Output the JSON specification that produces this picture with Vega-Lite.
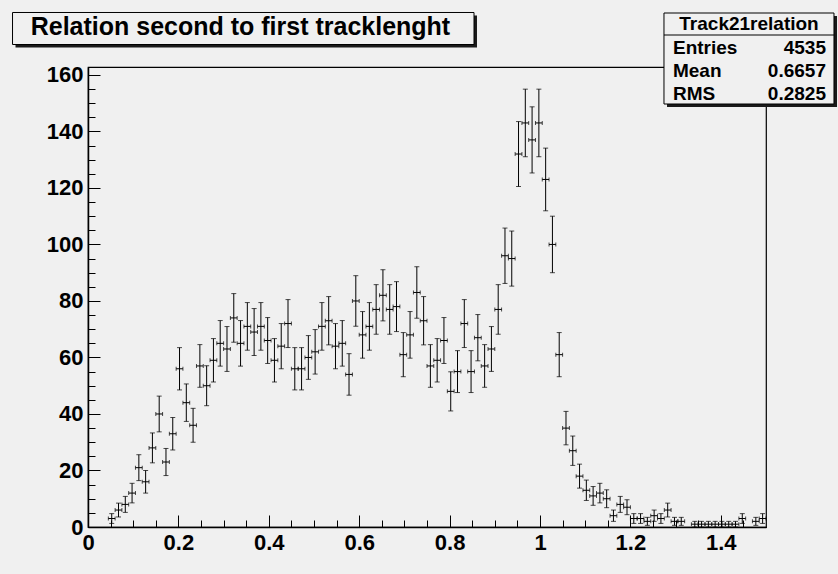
{
  "$schema": "https://vega.github.io/schema/vega-lite/v6.json",
  "width": 678,
  "height": 460,
  "autosize": {"type": "none"},
  "padding": {"left": 88, "top": 67, "right": 72, "bottom": 47},
  "background": "#f0f0f0",
  "config": {
    "font": "Liberation Sans",
    "view": {"stroke": "black", "strokeWidth": 1.2, "fill": "#f0f0f0"},
    "axis": {
      "labelFont": "Liberation Sans",
      "labelFontWeight": "bold",
      "labelFontSize": 22,
      "labelColor": "black",
      "tickColor": "black",
      "domainColor": "black",
      "grid": false,
      "title": null,
      "labelFlush": false,
      "labelOverlap": false
    }
  },
  "datasets": {
    "h": [
      {"x": 0.0525, "x0": 0.045, "x1": 0.06, "n": 3, "err": 1.732},
      {"x": 0.0675, "x0": 0.06, "x1": 0.075, "n": 6, "err": 2.449},
      {"x": 0.0825, "x0": 0.075, "x1": 0.09, "n": 8, "err": 2.828},
      {"x": 0.0975, "x0": 0.09, "x1": 0.105, "n": 12, "err": 3.464},
      {"x": 0.1125, "x0": 0.105, "x1": 0.12, "n": 21, "err": 4.583},
      {"x": 0.1275, "x0": 0.12, "x1": 0.135, "n": 16, "err": 4},
      {"x": 0.1425, "x0": 0.135, "x1": 0.15, "n": 28, "err": 5.292},
      {"x": 0.1575, "x0": 0.15, "x1": 0.165, "n": 40, "err": 6.325},
      {"x": 0.1725, "x0": 0.165, "x1": 0.18, "n": 23, "err": 4.796},
      {"x": 0.1875, "x0": 0.18, "x1": 0.195, "n": 33, "err": 5.745},
      {"x": 0.2025, "x0": 0.195, "x1": 0.21, "n": 56, "err": 7.483},
      {"x": 0.2175, "x0": 0.21, "x1": 0.225, "n": 44, "err": 6.633},
      {"x": 0.2325, "x0": 0.225, "x1": 0.24, "n": 36, "err": 6},
      {"x": 0.2475, "x0": 0.24, "x1": 0.255, "n": 57, "err": 7.55},
      {"x": 0.2625, "x0": 0.255, "x1": 0.27, "n": 50, "err": 7.071},
      {"x": 0.2775, "x0": 0.27, "x1": 0.285, "n": 59, "err": 7.681},
      {"x": 0.2925, "x0": 0.285, "x1": 0.3, "n": 65, "err": 8.062},
      {"x": 0.3075, "x0": 0.3, "x1": 0.315, "n": 63, "err": 7.937},
      {"x": 0.3225, "x0": 0.315, "x1": 0.33, "n": 74, "err": 8.602},
      {"x": 0.3375, "x0": 0.33, "x1": 0.345, "n": 65, "err": 8.062},
      {"x": 0.3525, "x0": 0.345, "x1": 0.36, "n": 71, "err": 8.426},
      {"x": 0.3675, "x0": 0.36, "x1": 0.375, "n": 69, "err": 8.307},
      {"x": 0.3825, "x0": 0.375, "x1": 0.39, "n": 71, "err": 8.426},
      {"x": 0.3975, "x0": 0.39, "x1": 0.405, "n": 66, "err": 8.124},
      {"x": 0.4125, "x0": 0.405, "x1": 0.42, "n": 59, "err": 7.681},
      {"x": 0.4275, "x0": 0.42, "x1": 0.435, "n": 64, "err": 8},
      {"x": 0.4425, "x0": 0.435, "x1": 0.45, "n": 72, "err": 8.485},
      {"x": 0.4575, "x0": 0.45, "x1": 0.465, "n": 56, "err": 7.483},
      {"x": 0.4725, "x0": 0.465, "x1": 0.48, "n": 56, "err": 7.483},
      {"x": 0.4875, "x0": 0.48, "x1": 0.495, "n": 60, "err": 7.746},
      {"x": 0.5025, "x0": 0.495, "x1": 0.51, "n": 62, "err": 7.874},
      {"x": 0.5175, "x0": 0.51, "x1": 0.525, "n": 71, "err": 8.426},
      {"x": 0.5325, "x0": 0.525, "x1": 0.54, "n": 73, "err": 8.544},
      {"x": 0.5475, "x0": 0.54, "x1": 0.555, "n": 64, "err": 8},
      {"x": 0.5625, "x0": 0.555, "x1": 0.57, "n": 65, "err": 8.062},
      {"x": 0.5775, "x0": 0.57, "x1": 0.585, "n": 54, "err": 7.348},
      {"x": 0.5925, "x0": 0.585, "x1": 0.6, "n": 80, "err": 8.944},
      {"x": 0.6075, "x0": 0.6, "x1": 0.615, "n": 68, "err": 8.246},
      {"x": 0.6225, "x0": 0.615, "x1": 0.63, "n": 71, "err": 8.426},
      {"x": 0.6375, "x0": 0.63, "x1": 0.645, "n": 77, "err": 8.775},
      {"x": 0.6525, "x0": 0.645, "x1": 0.66, "n": 82, "err": 9.055},
      {"x": 0.6675, "x0": 0.66, "x1": 0.675, "n": 77, "err": 8.775},
      {"x": 0.6825, "x0": 0.675, "x1": 0.69, "n": 78, "err": 8.832},
      {"x": 0.6975, "x0": 0.69, "x1": 0.705, "n": 61, "err": 7.81},
      {"x": 0.7125, "x0": 0.705, "x1": 0.72, "n": 68, "err": 8.246},
      {"x": 0.7275, "x0": 0.72, "x1": 0.735, "n": 83, "err": 9.11},
      {"x": 0.7425, "x0": 0.735, "x1": 0.75, "n": 73, "err": 8.544},
      {"x": 0.7575, "x0": 0.75, "x1": 0.765, "n": 57, "err": 7.55},
      {"x": 0.7725, "x0": 0.765, "x1": 0.78, "n": 59, "err": 7.681},
      {"x": 0.7875, "x0": 0.78, "x1": 0.795, "n": 66, "err": 8.124},
      {"x": 0.8025, "x0": 0.795, "x1": 0.81, "n": 48, "err": 6.928},
      {"x": 0.8175, "x0": 0.81, "x1": 0.825, "n": 55, "err": 7.416},
      {"x": 0.8325, "x0": 0.825, "x1": 0.84, "n": 72, "err": 8.485},
      {"x": 0.8475, "x0": 0.84, "x1": 0.855, "n": 55, "err": 7.416},
      {"x": 0.8625, "x0": 0.855, "x1": 0.87, "n": 67, "err": 8.185},
      {"x": 0.8775, "x0": 0.87, "x1": 0.885, "n": 57, "err": 7.55},
      {"x": 0.8925, "x0": 0.885, "x1": 0.9, "n": 63, "err": 7.937},
      {"x": 0.9075, "x0": 0.9, "x1": 0.915, "n": 77, "err": 8.775},
      {"x": 0.9225, "x0": 0.915, "x1": 0.93, "n": 96, "err": 9.798},
      {"x": 0.9375, "x0": 0.93, "x1": 0.945, "n": 95, "err": 9.747},
      {"x": 0.9525, "x0": 0.945, "x1": 0.96, "n": 132, "err": 11.489},
      {"x": 0.9675, "x0": 0.96, "x1": 0.975, "n": 143, "err": 11.958},
      {"x": 0.9825, "x0": 0.975, "x1": 0.99, "n": 137, "err": 11.705},
      {"x": 0.9975, "x0": 0.99, "x1": 1.005, "n": 143, "err": 11.958},
      {"x": 1.0125, "x0": 1.005, "x1": 1.02, "n": 123, "err": 11.091},
      {"x": 1.0275, "x0": 1.02, "x1": 1.035, "n": 100, "err": 10},
      {"x": 1.0425, "x0": 1.035, "x1": 1.05, "n": 61, "err": 7.81},
      {"x": 1.0575, "x0": 1.05, "x1": 1.065, "n": 35, "err": 5.916},
      {"x": 1.0725, "x0": 1.065, "x1": 1.08, "n": 27, "err": 5.196},
      {"x": 1.0875, "x0": 1.08, "x1": 1.095, "n": 18, "err": 4.243},
      {"x": 1.1025, "x0": 1.095, "x1": 1.11, "n": 13, "err": 3.606},
      {"x": 1.1175, "x0": 1.11, "x1": 1.125, "n": 11, "err": 3.317},
      {"x": 1.1325, "x0": 1.125, "x1": 1.14, "n": 12, "err": 3.464},
      {"x": 1.1475, "x0": 1.14, "x1": 1.155, "n": 10, "err": 3.162},
      {"x": 1.1625, "x0": 1.155, "x1": 1.17, "n": 4, "err": 2},
      {"x": 1.1775, "x0": 1.17, "x1": 1.185, "n": 8, "err": 2.828},
      {"x": 1.1925, "x0": 1.185, "x1": 1.2, "n": 7, "err": 2.646},
      {"x": 1.2075, "x0": 1.2, "x1": 1.215, "n": 3, "err": 1.732},
      {"x": 1.2225, "x0": 1.215, "x1": 1.23, "n": 3, "err": 1.732},
      {"x": 1.2375, "x0": 1.23, "x1": 1.245, "n": 2, "err": 1.414},
      {"x": 1.2525, "x0": 1.245, "x1": 1.26, "n": 4, "err": 2},
      {"x": 1.2675, "x0": 1.26, "x1": 1.275, "n": 3, "err": 1.732},
      {"x": 1.2825, "x0": 1.275, "x1": 1.29, "n": 6, "err": 2.449},
      {"x": 1.2975, "x0": 1.29, "x1": 1.305, "n": 2, "err": 1.414},
      {"x": 1.3125, "x0": 1.305, "x1": 1.32, "n": 2, "err": 1.414},
      {"x": 1.3425, "x0": 1.335, "x1": 1.35, "n": 1, "err": 1},
      {"x": 1.3575, "x0": 1.35, "x1": 1.365, "n": 1, "err": 1},
      {"x": 1.3725, "x0": 1.365, "x1": 1.38, "n": 1, "err": 1},
      {"x": 1.3875, "x0": 1.38, "x1": 1.395, "n": 1, "err": 1},
      {"x": 1.4025, "x0": 1.395, "x1": 1.41, "n": 1, "err": 1},
      {"x": 1.4175, "x0": 1.41, "x1": 1.425, "n": 1, "err": 1},
      {"x": 1.4325, "x0": 1.425, "x1": 1.44, "n": 1, "err": 1},
      {"x": 1.4475, "x0": 1.44, "x1": 1.455, "n": 3, "err": 1.732},
      {"x": 1.4775, "x0": 1.47, "x1": 1.485, "n": 2, "err": 1.414},
      {"x": 1.4925, "x0": 1.485, "x1": 1.5, "n": 3, "err": 1.732}
    ]
  },
  "resolve": {"axis": {"x": "independent", "y": "independent"}},
  "layer": [
    {
      "data": {"name": "h"},
      "mark": {"type": "errorbar", "color": "black", "thickness": 1, "ticks": {"size": 5, "thickness": 1, "color": "black"}},
      "encoding": {
        "x": {"field": "x", "type": "quantitative", "title": null, "scale": {"domain": [0, 1.5], "nice": false, "zero": false},
              "axis": {"title": null, "orient": "bottom", "values": [0, 0.2, 0.4, 0.6, 0.8, 1, 1.2, 1.4], "format": "~g", "ticks": false, "labelPadding": 5, "domainWidth": 1.5}},
        "y": {"field": "n", "type": "quantitative", "title": null, "scale": {"domain": [0, 162.8], "nice": false},
              "axis": {"title": null, "orient": "left", "values": [0, 20, 40, 60, 80, 100, 120, 140, 160], "ticks": false, "labelPadding": 5, "domainWidth": 1.5}},
        "yError": {"field": "err"}
      }
    },
    {
      "data": {"name": "h"},
      "mark": {"type": "errorbar", "color": "black", "thickness": 1, "ticks": {"size": 4, "thickness": 1, "color": "black"}},
      "encoding": {
        "x": {"field": "x0", "type": "quantitative", "title": null, "scale": {"domain": [0, 1.5], "nice": false, "zero": false}, "axis": null},
        "x2": {"field": "x1"},
        "y": {"field": "n", "type": "quantitative", "title": null, "scale": {"domain": [0, 162.8], "nice": false}, "axis": null}
      }
    },
    {
      "data": {"name": "h"},
      "mark": {"type": "point", "opacity": 0},
      "encoding": {
        "x": {"field": "x", "type": "quantitative", "title": null, "scale": {"domain": [0, 1.5], "nice": false, "zero": false},
              "axis": {"title": null, "orient": "bottom", "values": [0, 0.2, 0.4, 0.6, 0.8, 1, 1.2, 1.4], "labels": false, "domain": false, "tickSize": -12, "tickWidth": 1}},
        "y": {"field": "n", "type": "quantitative", "title": null, "scale": {"domain": [0, 162.8], "nice": false},
              "axis": {"title": null, "orient": "left", "values": [0, 20, 40, 60, 80, 100, 120, 140, 160], "labels": false, "domain": false, "tickSize": -12, "tickWidth": 1}}
      }
    },
    {
      "data": {"name": "h"},
      "mark": {"type": "point", "opacity": 0},
      "encoding": {
        "x": {"field": "x", "type": "quantitative", "title": null, "scale": {"domain": [0, 1.5], "nice": false, "zero": false},
              "axis": {"title": null, "orient": "bottom", "values": [0.05, 0.1, 0.15, 0.25, 0.3, 0.35, 0.45, 0.5, 0.55, 0.65, 0.7, 0.75, 0.85, 0.9, 0.95, 1.05, 1.1, 1.15, 1.25, 1.3, 1.35, 1.45], "labels": false, "domain": false, "tickSize": -7, "tickWidth": 1}},
        "y": {"field": "n", "type": "quantitative", "title": null, "scale": {"domain": [0, 162.8], "nice": false},
              "axis": {"title": null, "orient": "left", "values": [5, 10, 15, 25, 30, 35, 45, 50, 55, 65, 70, 75, 85, 90, 95, 105, 110, 115, 125, 130, 135, 145, 150, 155], "labels": false, "domain": false, "tickSize": -7, "tickWidth": 1}}
      }
    },
    {
      "data": {"values": [{}]},
      "mark": {"type": "rect", "fill": "#1a1a1a"},
      "encoding": {
        "x": {"datum": -0.1604, "type": "quantitative", "scale": {"domain": [0, 1.5], "nice": false, "zero": false}, "axis": null},
        "x2": {"datum": 0.8606},
        "y": {"datum": 181.03, "type": "quantitative", "scale": {"domain": [0, 162.8], "nice": false}, "axis": null},
        "y2": {"datum": 169.70}
      }
    },
    {
      "data": {"values": [{}]},
      "mark": {"type": "rect", "fill": "#f0f0f0", "stroke": "black", "strokeWidth": 1},
      "encoding": {
        "x": {"datum": -0.1670, "type": "quantitative", "scale": {"domain": [0, 1.5], "nice": false, "zero": false}, "axis": null},
        "x2": {"datum": 0.8540},
        "y": {"datum": 182.09, "type": "quantitative", "scale": {"domain": [0, 162.8], "nice": false}, "axis": null},
        "y2": {"datum": 170.76}
      }
    },
    {
      "data": {"values": [{}]},
      "mark": {"type": "text", "text": "Relation second to first tracklenght", "align": "left", "baseline": "alphabetic", "font": "Liberation Sans", "fontWeight": "bold", "fontSize": 25, "color": "black"},
      "encoding": {
        "x": {"datum": -0.1268, "type": "quantitative", "scale": {"domain": [0, 1.5], "nice": false, "zero": false}, "axis": null},
        "y": {"datum": 173.95, "type": "quantitative", "scale": {"domain": [0, 162.8], "nice": false}, "axis": null}
      }
    },
    {
      "data": {"values": [{}]},
      "mark": {"type": "rect", "fill": "#1a1a1a"},
      "encoding": {
        "x": {"datum": 1.2810, "type": "quantitative", "scale": {"domain": [0, 1.5], "nice": false, "zero": false}, "axis": null},
        "x2": {"datum": 1.6571},
        "y": {"datum": 180.85, "type": "quantitative", "scale": {"domain": [0, 162.8], "nice": false}, "axis": null},
        "y2": {"datum": 148.64}
      }
    },
    {
      "data": {"values": [{}]},
      "mark": {"type": "rect", "fill": "#f0f0f0", "stroke": "black", "strokeWidth": 1},
      "encoding": {
        "x": {"datum": 1.2743, "type": "quantitative", "scale": {"domain": [0, 1.5], "nice": false, "zero": false}, "axis": null},
        "x2": {"datum": 1.6504},
        "y": {"datum": 181.91, "type": "quantitative", "scale": {"domain": [0, 162.8], "nice": false}, "axis": null},
        "y2": {"datum": 149.70}
      }
    },
    {
      "data": {"values": [{}]},
      "mark": {"type": "rule", "color": "black", "strokeWidth": 1},
      "encoding": {
        "x": {"datum": 1.2743, "type": "quantitative", "scale": {"domain": [0, 1.5], "nice": false, "zero": false}, "axis": null},
        "x2": {"datum": 1.6504},
        "y": {"datum": 174.12, "type": "quantitative", "scale": {"domain": [0, 162.8], "nice": false}, "axis": null}
      }
    },
    {
      "data": {"values": [{}]},
      "mark": {"type": "text", "text": "Track21relation", "align": "center", "baseline": "alphabetic", "font": "Liberation Sans", "fontWeight": "bold", "fontSize": 19, "color": "black"},
      "encoding": {
        "x": {"datum": 1.4624, "type": "quantitative", "scale": {"domain": [0, 1.5], "nice": false, "zero": false}, "axis": null},
        "y": {"datum": 175.72, "type": "quantitative", "scale": {"domain": [0, 162.8], "nice": false}, "axis": null}
      }
    },
    {
      "data": {"values": [{}]},
      "mark": {"type": "text", "text": ["Entries", "Mean", "RMS"], "lineHeight": 23, "align": "left", "baseline": "alphabetic", "font": "Liberation Sans", "fontWeight": "bold", "fontSize": 19, "color": "black"},
      "encoding": {
        "x": {"datum": 1.2942, "type": "quantitative", "scale": {"domain": [0, 1.5], "nice": false, "zero": false}, "axis": null},
        "y": {"datum": 167.40, "type": "quantitative", "scale": {"domain": [0, 162.8], "nice": false}, "axis": null}
      }
    },
    {
      "data": {"values": [{}]},
      "mark": {"type": "text", "text": ["4535", "0.6657", "0.2825"], "lineHeight": 23, "align": "right", "baseline": "alphabetic", "font": "Liberation Sans", "fontWeight": "bold", "fontSize": 19, "color": "black"},
      "encoding": {
        "x": {"datum": 1.6327, "type": "quantitative", "scale": {"domain": [0, 1.5], "nice": false, "zero": false}, "axis": null},
        "y": {"datum": 167.40, "type": "quantitative", "scale": {"domain": [0, 162.8], "nice": false}, "axis": null}
      }
    }
  ]
}
